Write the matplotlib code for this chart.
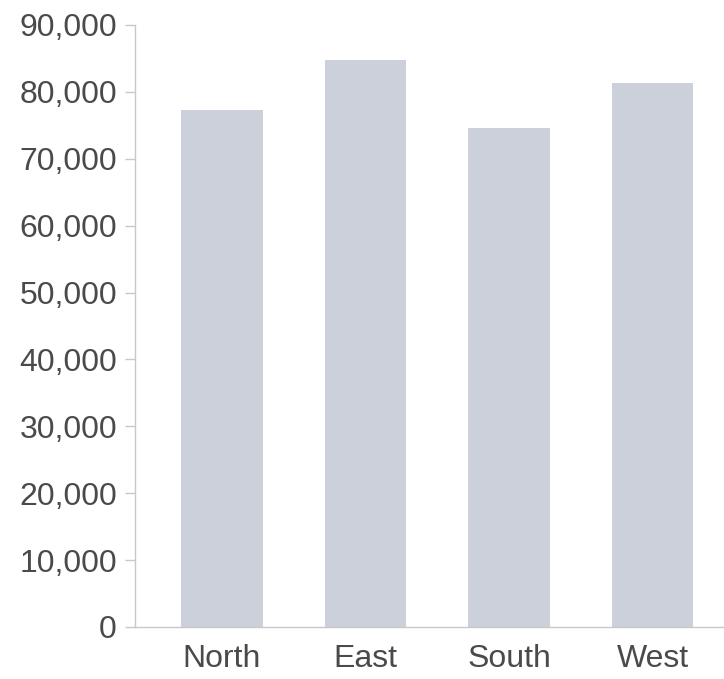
import matplotlib
matplotlib.use("Agg")
import matplotlib.pyplot as plt
from matplotlib.ticker import FuncFormatter

# Sales by region
regions = ["North", "East", "South", "West"]
sales = [77300, 84700, 74600, 81300]
y_ticks = [0, 10000, 20000, 30000, 40000, 50000, 60000, 70000, 80000, 90000]

plt.rcParams["font.family"] = ["Liberation Sans", "DejaVu Sans"]

fig = plt.figure(figsize=(7.24, 6.79), dpi=100)
ax = fig.add_axes([0.1865, 0.0766, 0.8135, 0.8866])

x = range(len(regions))
ax.bar(x, sales, width=0.57, color="#cbd0db", edgecolor="none")

ax.set_xlim(-0.606, 3.498)
ax.set_ylim(0, 90000)
ax.set_yticks(y_ticks)
ax.yaxis.set_major_formatter(FuncFormatter(lambda v, p: f"{int(v):,}"))
ax.set_xticks(list(x))
ax.set_xticklabels(regions)

for side in ("top", "right"):
    ax.spines[side].set_visible(False)
for side in ("left", "bottom"):
    ax.spines[side].set_color("#c8c8c8")
    ax.spines[side].set_linewidth(1.0)

ax.tick_params(axis="y", length=7, width=1, color="#c8c8c8",
               labelsize=23, labelcolor="#4a4a4a", pad=6)
ax.tick_params(axis="x", length=0, labelsize=23, labelcolor="#4a4a4a", pad=12)

fig.savefig("out.png", dpi=100)
